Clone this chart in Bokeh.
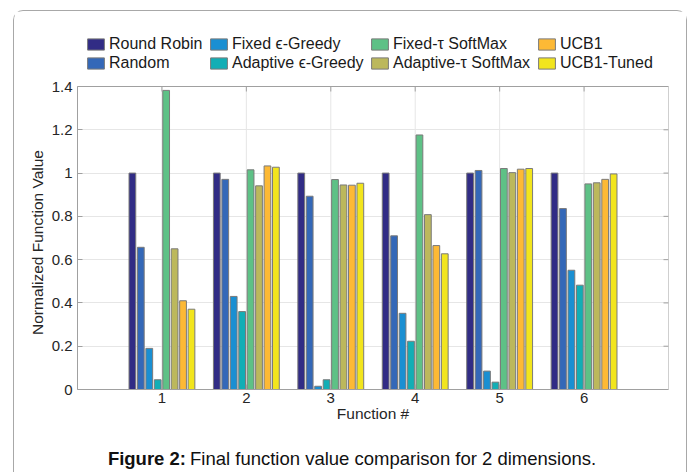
from bokeh.plotting import figure
from bokeh.models import (ColumnDataSource, Legend, LegendItem, FixedTicker, Range1d, Label)
from bokeh.core.properties import value
from bokeh.transform import dodge
from bokeh.embed import file_html
from bokeh.resources import INLINE

# ---------------- data ----------------
functions = [1, 2, 3, 4, 5, 6]
function_labels = ["1", "2", "3", "4", "5", "6"]
round_robin = [1.000, 1.000, 1.000, 1.000, 1.000, 1.000]
random_sel = [0.657, 0.971, 0.893, 0.710, 1.012, 0.836]
fixed_eps = [0.190, 0.430, 0.015, 0.352, 0.085, 0.551]
adaptive_eps = [0.045, 0.360, 0.045, 0.223, 0.034, 0.482]
fixed_tau = [1.382, 1.015, 0.970, 1.176, 1.021, 0.950]
adaptive_tau = [0.650, 0.941, 0.945, 0.808, 1.002, 0.955]
ucb1 = [0.410, 1.033, 0.944, 0.665, 1.018, 0.971]
ucb1_tuned = [0.371, 1.027, 0.953, 0.627, 1.021, 0.996]

series_names = ["Round Robin", "Random", "Fixed \u03f5-Greedy", "Adaptive \u03f5-Greedy",
                "Fixed-\u03c4 SoftMax", "Adaptive-\u03c4 SoftMax", "UCB1", "UCB1-Tuned"]
series_values = [round_robin, random_sel, fixed_eps, adaptive_eps,
                 fixed_tau, adaptive_tau, ucb1, ucb1_tuned]
series_colors = ["#312c85", "#3468b8", "#1a8fd2", "#12aeb5",
                 "#5ec186", "#bcb85c", "#fdb935", "#f2e51d"]

y_ticks = [0, 0.2, 0.4, 0.6, 0.8, 1.0, 1.2, 1.4]
y_tick_labels = ["0", "0.2", "0.4", "0.6", "0.8", "1", "1.2", "1.4"]
x_label = "Function #"
y_label = "Normalized Function Value"
caption_bold = "Figure 2:"
caption_text = "Final function value comparison for 2 dimensions."

# axes box limits (MATLAB axes)
X_LO, X_HI = 0, 7
Y_LO, Y_HI = 0, 1.4

# ---------------- styling ----------------
FONT = "Liberation Sans"
AX = "#a0a0a0"
GRID = "#e6e6e6"
TXT = "#262626"
W, H = 674, 462
PX_X = 591 / (X_HI - X_LO)      # pixels per x unit inside the axes box
PX_Y = 303 / (Y_HI - Y_LO)      # pixels per y unit inside the axes box
BOX_TOP, BOX_BOTTOM = 75, 378   # canvas pixels of the axes box

p = figure(width=W, height=H, output_backend="svg", toolbar_location=None,
           x_range=Range1d(X_LO, X_HI),
           y_range=Range1d(Y_LO - (H - BOX_BOTTOM) / PX_Y, Y_HI + BOX_TOP / PX_Y),
           min_border_left=63, min_border_right=20, min_border_top=0, min_border_bottom=0)
p.outline_line_color = None
p.background_fill_color = "white"
p.border_fill_color = "white"
p.styles = {"margin": "10px 0 0 13px", "border": "1px solid #a8a8a8",
            "border-bottom": "none", "border-radius": "10px 10px 0 0"}

src = ColumnDataSource(dict(f=functions, lab=function_labels,
                            **{f"s{i}": v for i, v in enumerate(series_values)}))

# vertical grid lines inside the box
p.segment(x0="f", y0=Y_LO, x1="f", y1=Y_HI, source=src, line_color=GRID, line_width=1)

items = []
n = len(series_names)
for i, (name, col) in enumerate(zip(series_names, series_colors)):
    off = (i - (n - 1) / 2) * 0.1
    r = p.vbar(x=dodge("f", off), top=f"s{i}", width=0.08, bottom=0, source=src,
               fill_color=col, line_color="#7a7a7a", line_width=1)
    items.append(LegendItem(label=name, renderers=[r]))

# axes box + inward ticks on bottom / top / right
p.quad(left=X_LO, right=X_HI, bottom=Y_LO, top=Y_HI, fill_color=None, line_color=AX)
tl_y = 5 / PX_Y
tl_x = 5 / PX_X
p.segment(x0="f", y0=Y_LO, x1="f", y1=Y_LO + tl_y, source=src, line_color=AX)
p.segment(x0="f", y0=Y_HI, x1="f", y1=Y_HI - tl_y, source=src, line_color=AX)
p.segment(x0=X_HI - tl_x, y0=y_ticks, x1=X_HI, y1=y_ticks, line_color=AX)

# x tick labels and label (axis drawn inside the frame)
p.xaxis.visible = False
p.xgrid.visible = False
p.text(x="f", y=Y_LO - 8.5 / PX_Y, text="lab", source=src, text_align="center",
       text_baseline="middle", text_font=value(FONT), text_font_size=value("15px"),
       text_color=TXT)
p.add_layout(Label(x=(X_LO + X_HI) / 2, y=Y_LO - 23.5 / PX_Y, text=x_label,
                   text_align="center", text_baseline="middle", text_font=FONT,
                   text_font_size="15.5px", text_color=TXT))

# y axis
ya = p.yaxis[0]
ya.bounds = (Y_LO, Y_HI)
ya.ticker = FixedTicker(ticks=y_ticks)
ya.major_label_overrides = {t: s for t, s in zip(y_ticks, y_tick_labels)}
ya.axis_line_color = AX
ya.major_tick_line_color = AX
ya.minor_tick_line_color = None
ya.major_tick_in = 5
ya.major_tick_out = 0
ya.major_label_text_font = FONT
ya.major_label_text_font_size = "15px"
ya.major_label_text_color = TXT
ya.major_label_standoff = 5
ya.axis_label = y_label
ya.axis_label_text_font = FONT
ya.axis_label_text_font_size = "15.5px"
ya.axis_label_text_font_style = "normal"
ya.axis_label_text_color = TXT
ya.axis_label_standoff = 3
p.ygrid.ticker = FixedTicker(ticks=y_ticks)
p.ygrid.grid_line_color = GRID

# legend: four columns of two entries (MATLAB column-major order)
col_x = [8, 131, 292, 459]
for c, vx in enumerate(col_x):
    leg = Legend(items=items[2 * c:2 * c + 2], orientation="vertical",
                 location=(vx, H - 61.5),
                 glyph_width=21, glyph_height=14, label_height=19,
                 label_text_font=FONT, label_text_font_size="16px",
                 label_text_color="#1a1a1a", label_standoff=3, spacing=0,
                 padding=0, margin=0, border_line_alpha=0, background_fill_alpha=0)
    p.add_layout(leg)

# caption
cap_y = Y_LO - 69 / PX_Y
p.add_layout(Label(x=X_LO + 108.5 / PX_X, y=cap_y, text=caption_bold,
                   text_align="right", text_baseline="middle", text_font=FONT,
                   text_font_size="18.5px", text_font_style="bold", text_color="#111111"))
p.add_layout(Label(x=X_LO + 112.5 / PX_X, y=cap_y, text=caption_text,
                   text_align="left", text_baseline="middle", text_font=FONT,
                   text_font_size="18.5px", text_color="#111111"))

open("out.html", "w").write(file_html(p, INLINE))
